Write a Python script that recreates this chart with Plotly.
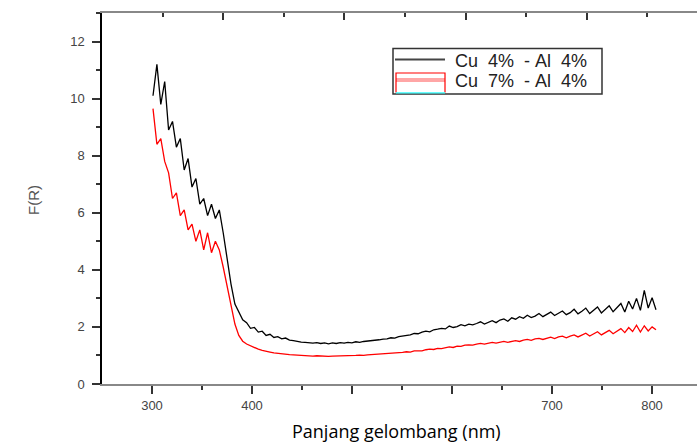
import numpy as np
import plotly.graph_objects as go

# Wavelength sampling grid (nm), 130 samples from 301 to 804 nm
wavelength = np.linspace(301, 804, 130).round(1).tolist()

cu4_al4 = [
    10.1, 11.2, 9.8, 10.6, 8.9, 9.2, 8.3, 8.6, 7.5, 7.9,
    6.9, 7.2, 6.3, 6.5, 5.9, 6.3, 5.8, 6.1, 5.3, 4.4,
    3.5, 2.8, 2.5, 2.25, 2.15, 1.95, 1.98, 1.82, 1.85, 1.70,
    1.74, 1.63, 1.66, 1.58, 1.61, 1.54, 1.52, 1.49, 1.47, 1.46,
    1.45, 1.43, 1.45, 1.42, 1.44, 1.41, 1.44, 1.42, 1.45, 1.43,
    1.46, 1.44, 1.48, 1.46, 1.49,
    1.50, 1.53, 1.52, 1.55, 1.57, 1.58, 1.62, 1.61, 1.66, 1.68,
    1.71, 1.72, 1.77, 1.76, 1.82, 1.85, 1.83, 1.90, 1.92, 1.95,
    1.93, 2.03, 1.98, 2.01, 2.08, 2.04, 2.10, 2.07, 2.12, 2.18,
    2.10, 2.16, 2.22, 2.15, 2.24, 2.28, 2.20, 2.32, 2.27, 2.36,
    2.30, 2.41, 2.33, 2.38, 2.47, 2.36, 2.44, 2.52, 2.40, 2.49,
    2.56, 2.43, 2.50, 2.62, 2.46, 2.55, 2.66, 2.47, 2.58, 2.70,
    2.49, 2.61, 2.74, 2.53, 2.66, 2.82, 2.52, 2.90, 2.63, 3.00,
    2.58, 3.28, 2.66, 3.02, 2.60,
]

cu7_al4 = [
    9.65, 8.4, 8.6, 7.8, 7.4, 6.5, 6.7, 5.9, 6.1, 5.4,
    5.6, 5.0, 5.4, 4.7, 5.3, 4.6, 5.0, 4.7, 4.1, 3.4,
    2.7, 2.1, 1.7, 1.5, 1.4, 1.33, 1.28, 1.22, 1.18, 1.14,
    1.12, 1.09, 1.07, 1.06, 1.04, 1.03, 1.02, 1.01, 1.00, 0.99,
    1.00, 0.98, 0.99, 0.98, 0.98, 0.97, 0.98, 0.98, 0.99, 0.98,
    1.00, 0.99, 1.00, 1.01, 1.00,
    1.02, 1.03, 1.03, 1.05, 1.04, 1.07, 1.08, 1.07, 1.10, 1.11,
    1.13, 1.12, 1.16, 1.17, 1.16, 1.20, 1.22, 1.21, 1.25, 1.24,
    1.28, 1.30, 1.28, 1.33, 1.32, 1.36, 1.37, 1.36, 1.40, 1.42,
    1.40, 1.44, 1.46, 1.43, 1.47, 1.49, 1.46, 1.50, 1.52, 1.49,
    1.54, 1.56, 1.53, 1.58, 1.60, 1.56, 1.61, 1.64, 1.59, 1.65,
    1.68, 1.62, 1.68, 1.72, 1.65, 1.71, 1.78, 1.68, 1.75, 1.83,
    1.72, 1.80, 1.88, 1.76, 1.86, 1.94, 1.80, 1.98, 1.84, 2.06,
    1.82, 2.04, 1.86, 2.00, 1.90,
]

x_tick_vals = [300, 400, 500, 600, 700, 800]
x_tick_text = ["300", "400", "", "", "700", "800"]
series_names = ["Cu 4% - Al 4%", "Cu 7% - Al 4%"]
NB = "\u00a0"
legend_texts = [f"Cu{NB*2}4%{NB*2}-{NB}Al{NB*2}4%",
                f"Cu{NB*2}7%{NB*2}-{NB}Al{NB*2}4%"]

W, H = 697, 443
L, R, T, B = 102, 0, 13, 59
PW, PH = W - L - R, H - T - B


def px(x):
    return (x - L) / PW


def py(y):
    return (H - B - y) / PH


fig = go.Figure()
fig.add_trace(go.Scatter(x=wavelength, y=cu4_al4, mode="lines", name=series_names[0],
                         line=dict(color="black", width=1.3), showlegend=False))
fig.add_trace(go.Scatter(x=wavelength, y=cu7_al4, mode="lines", name=series_names[1],
                         line=dict(color="#ff0000", width=1.3), showlegend=False))
# invisible trace to host the top axis
fig.add_trace(go.Scatter(x=[0], y=[0], xaxis="x2", mode="markers", marker=dict(opacity=0),
                         showlegend=False, hoverinfo="skip"))

tick_font = dict(family="Liberation Sans, Arial", size=13, color="#444")
leg_font = dict(family="Liberation Sans, Arial", size=18, color="#222")

shapes = [
    dict(type="rect", xref="paper", yref="paper", x0=px(393), x1=px(602), y0=py(94), y1=py(48.5),
         line=dict(color="#333", width=1.5), fillcolor="white", layer="above"),
    dict(type="line", xref="paper", yref="paper", x0=px(395), x1=px(445), y0=py(59.5), y1=py(59.5),
         line=dict(color="#444", width=2), layer="above"),
    dict(type="line", xref="paper", yref="paper", x0=px(396), x1=px(445), y0=py(80), y1=py(80),
         line=dict(color="rgba(255,0,0,0.35)", width=4), layer="above"),
    dict(type="path", xref="paper", yref="paper",
         path=f"M {px(396)} {py(92.5)} L {px(396)} {py(73)} L {px(445)} {py(73)} L {px(445)} {py(92.5)}",
         line=dict(color="#ff0000", width=1.2), layer="above"),
    dict(type="line", xref="paper", yref="paper", x0=px(396), x1=px(445), y0=py(92.8), y1=py(92.8),
         line=dict(color="#33ffff", width=1.2), layer="above"),
]

fig.update_layout(
    width=W, height=H,
    margin=dict(l=L, r=R, t=T, b=B, autoexpand=False),
    paper_bgcolor="white", plot_bgcolor="white",
    showlegend=False,
    xaxis=dict(range=[250, 845], showgrid=False, zeroline=False,
               showline=True, linecolor="#888", linewidth=2,
               tickmode="array", tickvals=x_tick_vals, ticktext=x_tick_text,
               ticks="outside", ticklen=8, tickcolor="#333", tickwidth=1.5,
               ticklabelstandoff=0,
               minor=dict(tickvals=[350, 450, 550, 650, 750], ticks="outside",
                          ticklen=4, tickcolor="#333", tickwidth=1.5),
               tickfont=tick_font),
    xaxis2=dict(overlaying="x", side="top", range=[0, 9.82], showgrid=False,
                zeroline=False, showline=True, linecolor="#888", linewidth=2,
                tickmode="linear", tick0=0, dtick=2, ticks="inside", ticklen=7,
                tickcolor="#333", tickwidth=1.5, showticklabels=False,
                minor=dict(tick0=0, dtick=1, ticks="inside", ticklen=4,
                           tickcolor="#333", tickwidth=1.5)),
    yaxis=dict(range=[0, 13], showgrid=False, zeroline=False,
               showline=True, linecolor="black", linewidth=1.5,
               tickmode="linear", tick0=0, dtick=2,
               ticks="outside", ticklen=8, tickcolor="#333", tickwidth=1.5,
               ticklabelstandoff=5,
               minor=dict(dtick=1, ticks="outside", ticklen=4,
                          tickcolor="#333", tickwidth=1.5),
               tickfont=tick_font),
    shapes=shapes,
    annotations=[
        dict(text="F(R)", textangle=-90, xref="paper", yref="paper",
             x=px(33), y=py(200), xanchor="center", yanchor="middle",
             showarrow=False, font=dict(family="Liberation Sans, Arial", size=15, color="#555")),
        dict(text="Panjang gelombang (nm)", xref="paper", yref="paper",
             x=px(396), y=py(431), xanchor="center", yanchor="middle",
             showarrow=False, font=dict(family="Open Sans", size=18, color="black")),
        dict(text=legend_texts[0], xref="paper", yref="paper",
             x=px(453), y=py(61), xanchor="left", yanchor="middle",
             showarrow=False, font=leg_font),
        dict(text=legend_texts[1], xref="paper", yref="paper",
             x=px(453), y=py(81), xanchor="left", yanchor="middle",
             showarrow=False, font=leg_font),
    ],
)

fig.write_html("out.html", config={"displayModeBar": False},
               post_script="document.body.style.margin='0';document.body.style.overflow='hidden';")
